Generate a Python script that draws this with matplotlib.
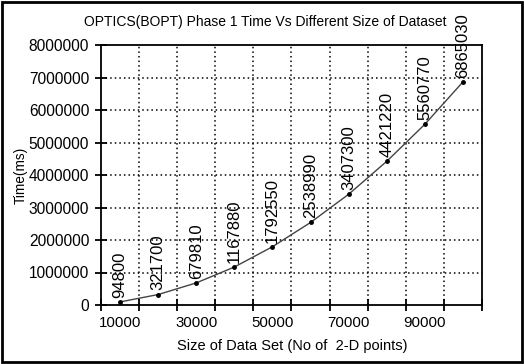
import matplotlib
matplotlib.use("Agg")
import matplotlib.pyplot as plt
from matplotlib.patches import Rectangle

plt.rcParams['font.family'] = ['Liberation Sans', 'DejaVu Sans']

sizes = [10000, 20000, 30000, 40000, 50000, 60000, 70000, 80000, 90000, 100000]
times = [94800, 321700, 679810, 1167880, 1792550, 2538990, 3407300, 4421220, 5560770, 6865030]
shown_labels = ["10000", "30000", "50000", "70000", "90000"]
title = "OPTICS(BOPT) Phase 1 Time Vs Different Size of Dataset"
xlabel = "Size of Data Set (No of  2-D points)"
ylabel = "Time(ms)"

fig = plt.figure(figsize=(5.24, 3.64), dpi=100)
ax = fig.add_axes([101/524, 1-305/364, (482-101)/524, (305-45)/364])

pos = list(range(1, len(sizes) + 1))
ax.plot(pos, times, color='#444444', lw=1.0, zorder=3)
ax.plot(pos, times, 'o', color='black', ms=2.5, zorder=4)

for p, t in zip(pos, times):
    ax.annotate(str(t), (p, t), xytext=(0, 3), textcoords='offset points',
                rotation=90, ha='center', va='bottom', fontsize=12,
                annotation_clip=False, zorder=5)

ax.set_xlim(0.5, len(sizes) + 0.5)
ax.set_ylim(0, 8000000)
ax.set_yticks(range(0, 8000001, 1000000))
ax.set_yticklabels([str(v) for v in range(0, 8000001, 1000000)], fontsize=11.2)

bounds = [i + 0.5 for i in range(0, len(sizes) + 1)]
ax.set_xticks(bounds)
ax.set_xticklabels([''] * len(bounds))
label_pos = [pos[sizes.index(int(s))] for s in shown_labels]
ax.set_xticks(label_pos, minor=True)
ax.set_xticklabels(shown_labels, minor=True, fontsize=10.8)
ax.tick_params(axis='x', which='minor', length=0, pad=8)
ax.tick_params(axis='x', which='major', direction='inout', length=9, width=1.3)
ax.tick_params(axis='y', direction='inout', length=9, width=1.3, pad=4)

for b in bounds[1:-1]:
    ax.axvline(b, color='black', lw=1.1, ls=(0, (1, 2)), zorder=1)
for v in range(1000000, 8000000, 1000000):
    ax.axhline(v, color='black', lw=1.1, ls=(0, (1, 2)), zorder=1)

for s in ax.spines.values():
    s.set_linewidth(1.3)

ax.set_ylabel(ylabel, fontsize=9.8, labelpad=1)
fig.text(292/524, 1-346/364, xlabel, ha='center', va='center', fontsize=10.5)
fig.text(265/524, 1-22/364, title, ha='center', va='center', fontsize=10)

fig.patches.append(Rectangle((0.004, 0.006), 0.992, 0.988, transform=fig.transFigure,
                             fill=False, edgecolor='black', lw=2))

fig.savefig('out.png', dpi=100)
